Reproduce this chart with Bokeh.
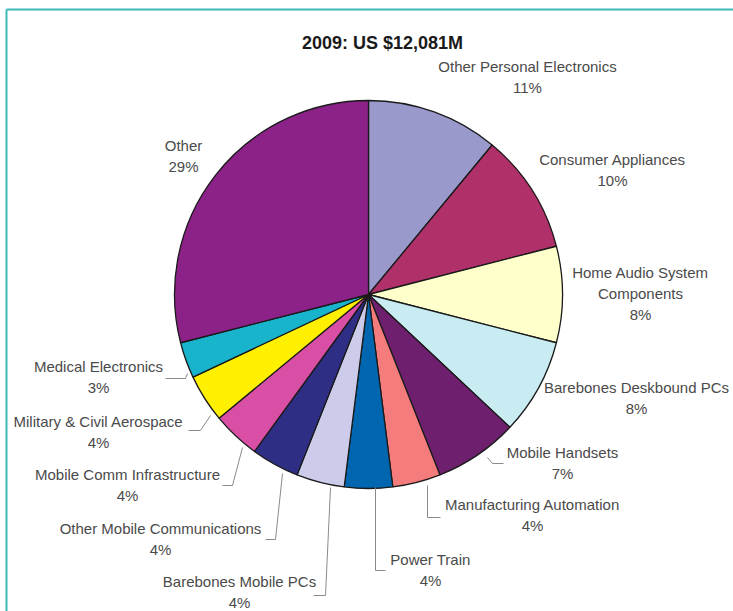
import numpy as np
from bokeh.plotting import figure
from bokeh.models import Range1d, ColumnDataSource
from bokeh.core.properties import value
from bokeh.embed import file_html
from bokeh.resources import INLINE

# ---- data ----
title = "2009: US $12,081M"
categories = ["Other Personal Electronics", "Consumer Appliances", "Home Audio System Components",
              "Barebones Deskbound PCs", "Mobile Handsets", "Manufacturing Automation", "Power Train",
              "Barebones Mobile PCs", "Other Mobile Communications", "Mobile Comm Infrastructure",
              "Military & Civil Aerospace", "Medical Electronics", "Other"]
percents = [11, 10, 8, 8, 7, 4, 4, 4, 4, 4, 4, 3, 29]
label_lines = [["Other Personal Electronics"], ["Consumer Appliances"], ["Home Audio System", "Components"],
               ["Barebones Deskbound PCs"], ["Mobile Handsets"], ["Manufacturing Automation"], ["Power Train"],
               ["Barebones Mobile PCs"], ["Other Mobile Communications"], ["Mobile Comm Infrastructure"],
               ["Military & Civil Aerospace"], ["Medical Electronics"], ["Other"]]

# ---- style / layout ----
colors = ["#9999cc", "#b0306a", "#ffffcc", "#c8ecf2", "#6e1f6e", "#f47c7c", "#0066b0",
          "#ccccea", "#2e2e85", "#d94fa6", "#ffef00", "#18b4cc", "#8c2288"]
W, H = 733, 611
cx, cy, R = 368, 294, 194  # pixel coords (y down)
label_pos = [(527, 66), (612, 159), (640, 272), (636, 387), (562, 452), (532, 504), (430, 559),
             (239, 581), (160, 528), (127, 474), (98, 421), (98, 366), (183, 145)]
line_gap = 21
leaders = [None, None, None, None,
           [(487, 457), (492, 463), (503, 463)],
           [(427, 485), (427, 517), (440, 517)],
           [(375, 487), (375, 570), (385, 570)],
           [(330, 487), (325, 595), (313, 595)],
           [(282, 473), (275, 539), (265, 539)],
           [(242, 447), (232, 485), (222, 485)],
           [(210, 415), (200, 430), (188, 430)],
           [(187, 373), (185, 378), (165, 378)],
           None]

def fy(y):
    return H - y

p = figure(width=W, height=H, output_backend="svg", toolbar_location=None,
           x_range=Range1d(0, W), y_range=Range1d(0, H), min_border=0)
p.axis.visible = False
p.grid.visible = False
p.outline_line_color = None
p.background_fill_color = "white"
p.border_fill_color = "white"

# frame (top and left edges)
p.segment(x0=[6], y0=[fy(9)], x1=[W + 5], y1=[fy(9)], line_color="#3fb9b9", line_width=2)
p.segment(x0=[6], y0=[fy(9)], x1=[6], y1=[-5], line_color="#3fb9b9", line_width=2)

# wedges
frac = np.array(percents, dtype=float) / sum(percents)
cum = np.concatenate([[0], np.cumsum(frac)])
start = np.pi / 2 - cum[:-1] * 2 * np.pi
end = np.pi / 2 - cum[1:] * 2 * np.pi
src = ColumnDataSource(dict(start=start, end=end, color=colors, cat=categories))
p.wedge(x=cx, y=fy(cy), radius=R, start_angle="start", end_angle="end", direction="clock",
        fill_color="color", line_color="#1a1a1a", line_width=1.3, source=src)

# leader lines
xs, ys = [], []
for ld in leaders:
    if ld:
        xs.append([a for a, b in ld])
        ys.append([fy(b) for a, b in ld])
p.multi_line(xs=xs, ys=ys, line_color="#8a8a8a", line_width=1)

# labels
tx, ty, tt = [], [], []
for (lx, ly), lines, pc in zip(label_pos, label_lines, percents):
    for i, ln in enumerate(lines + [f"{pc}%"]):
        tx.append(lx)
        ty.append(fy(ly + i * line_gap))
        tt.append(ln)
p.text(x=tx, y=ty, text=tt, text_font=value("Liberation Sans"), text_font_size="15px",
       text_color="#4a4a4a", text_align="center", text_baseline="middle")

# title
p.text(x=[382], y=[fy(42)], text=[title], text_font=value("Liberation Sans"), text_font_size="18px",
       text_font_style="bold", text_color="#1a1a1a", text_align="center", text_baseline="middle")

open("out.html", "w").write(file_html(p, INLINE))
